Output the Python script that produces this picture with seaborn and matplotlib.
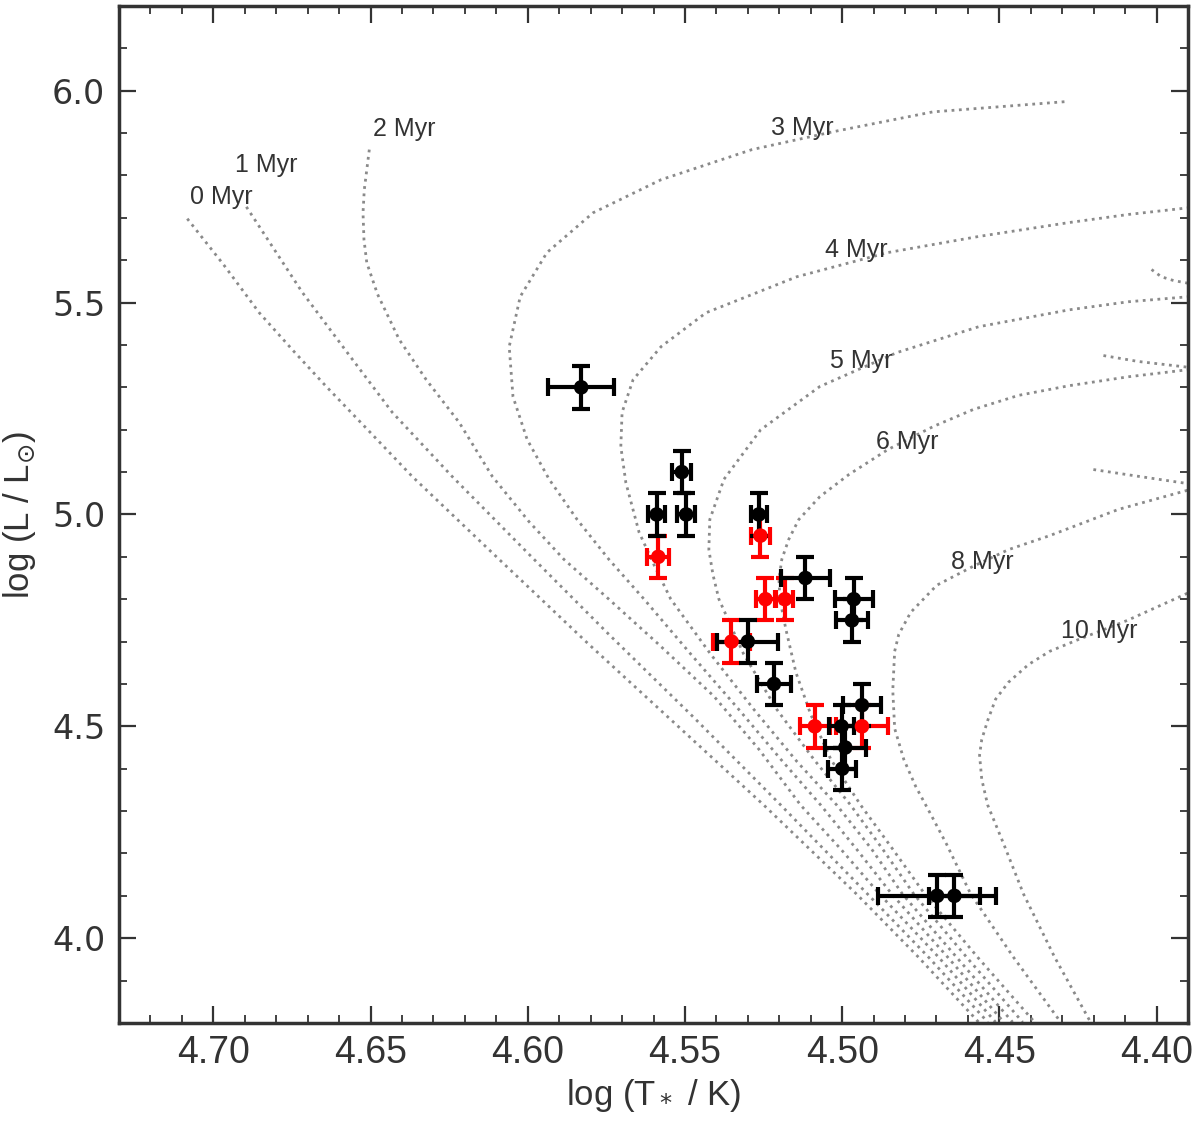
import matplotlib
matplotlib.use("Agg")
import matplotlib.pyplot as plt
from matplotlib.ticker import MultipleLocator, FormatStrFormatter
import numpy as np
import pandas as pd
import seaborn as sns

# --- isochrones (log T, log L) ---
iso0_T = [4.7083, 4.6968, 4.6854, 4.6743, 4.6641, 4.6504, 4.6368, 4.6091, 4.5805, 4.5519, 4.5249, 4.4954, 4.4757, 4.4566]
iso0_L = [5.698, 5.590, 5.476, 5.384, 5.302, 5.196, 5.090, 4.894, 4.693, 4.498, 4.314, 4.104, 3.955, 3.802]

iso1_T = [4.6895, 4.6806, 4.6717, 4.6574, 4.6431, 4.6241, 4.5996, 4.5742, 4.5472, 4.5195, 4.4919, 4.4725, 4.4537]
iso1_L = [5.726, 5.625, 5.524, 5.382, 5.241, 5.090, 4.906, 4.717, 4.521, 4.314, 4.104, 3.955, 3.802]

iso2_T = [4.6504, 4.6520, 4.6524, 4.6521, 4.6512, 4.6478, 4.6409, 4.6323, 4.6218, 4.6113, 4.5996,
          4.5885, 4.5742, 4.5583, 4.5408, 4.5265, 4.5132, 4.5004, 4.4881, 4.4693, 4.4512]
iso2_L = [5.861, 5.766, 5.712, 5.649, 5.594, 5.520, 5.413, 5.318, 5.217, 5.090, 4.983,
          4.894, 4.800, 4.693, 4.571, 4.446, 4.314, 4.210, 4.104, 3.955, 3.802]

iso3_T = [4.4293, 4.4502, 4.4712, 4.5030, 4.5287, 4.5576, 4.5792, 4.5939, 4.6024, 4.6059, 4.6047, 4.6002,
          4.5932, 4.5843, 4.5742, 4.5630, 4.5481, 4.5329, 4.5195, 4.5068, 4.4954, 4.4842, 4.4664, 4.4486]
iso3_L = [5.974, 5.962, 5.950, 5.903, 5.861, 5.790, 5.712, 5.618, 5.514, 5.396, 5.278, 5.177,
          5.083, 4.988, 4.894, 4.800, 4.670, 4.540, 4.422, 4.314, 4.210, 4.104, 3.955, 3.802]

iso4_T = [4.3895, 4.4089, 4.4277, 4.4566, 4.4855, 4.5144, 4.5433, 4.5576, 4.5665, 4.5700, 4.5704, 4.5688,
          4.5646, 4.5599, 4.5545, 4.5418, 4.5281, 4.5144, 4.5017, 4.4906, 4.4808, 4.4636, 4.4458]
iso4_L = [5.724, 5.708, 5.689, 5.656, 5.618, 5.561, 5.476, 5.396, 5.318, 5.241, 5.160, 5.075,
          4.958, 4.882, 4.800, 4.670, 4.540, 4.417, 4.314, 4.210, 4.104, 3.955, 3.802]

iso5_T = [4.3895, 4.4089, 4.4277, 4.4566, 4.4826, 4.5071, 4.5259, 4.5376, 4.5421, 4.5424, 4.5411, 4.5392,
          4.5313, 4.5208, 4.5090, 4.4973, 4.4871, 4.4772, 4.4604, 4.4426]
iso5_L = [5.514, 5.502, 5.483, 5.443, 5.382, 5.302, 5.200, 5.083, 4.988, 4.917, 4.858, 4.800,
          4.670, 4.540, 4.422, 4.314, 4.210, 4.104, 3.955, 3.802]

iso6_T = [4.3895, 4.4089, 4.4277, 4.4439, 4.4582, 4.4709, 4.4855, 4.4979, 4.5071, 4.5138, 4.5170, 4.5192,
          4.5201, 4.5198, 4.5179, 4.5147, 4.5100, 4.5036, 4.4941, 4.4839, 4.4737, 4.4569, 4.4388]
iso6_L = [5.342, 5.325, 5.304, 5.281, 5.248, 5.208, 5.153, 5.094, 5.042, 4.988, 4.941, 4.894,
          4.847, 4.800, 4.729, 4.627, 4.528, 4.422, 4.314, 4.210, 4.104, 3.955, 3.802]

iso8_T = [4.3902, 4.4121, 4.4340, 4.4471, 4.4585, 4.4699, 4.4782, 4.4820, 4.4833, 4.4839, 4.4833, 4.4804,
          4.4766, 4.4718, 4.4668, 4.4591, 4.4455, 4.4305]
iso8_L = [5.057, 5.012, 4.950, 4.917, 4.877, 4.833, 4.769, 4.717, 4.677, 4.585, 4.495, 4.422,
          4.358, 4.292, 4.222, 4.104, 3.955, 3.802]

iso10_T = [4.3902, 4.4093, 4.4248, 4.4340, 4.4407, 4.4471, 4.4512, 4.4537, 4.4556, 4.4563, 4.4556, 4.4537,
           4.4486, 4.4423, 4.4324, 4.4210]
iso10_L = [4.814, 4.750, 4.705, 4.677, 4.646, 4.604, 4.564, 4.514, 4.469, 4.432, 4.375, 4.314,
           4.222, 4.104, 3.955, 3.802]

# short pieces at the right edge
frag1_T = [4.4016, 4.3985, 4.3946, 4.3895]
frag1_L = [5.578, 5.561, 5.552, 5.545]
frag2_T = [4.4169, 4.4058, 4.3895]
frag2_L = [5.375, 5.361, 5.347]
frag3_T = [4.4201, 4.4058, 4.3902]
frag3_L = [5.106, 5.090, 5.073]

iso_labels = ["0 Myr", "1 Myr", "2 Myr", "3 Myr", "4 Myr", "5 Myr", "6 Myr", "8 Myr", "10 Myr"]
label_T = [4.6975, 4.6832, 4.6393, 4.5128, 4.4954, 4.4938, 4.4792, 4.4553, 4.4181]
label_L = [5.748, 5.825, 5.910, 5.913, 5.625, 5.361, 5.172, 4.887, 4.724]

# --- stars ---
black_T = [4.583, 4.551, 4.559, 4.5496, 4.5265, 4.5117, 4.4963, 4.4969, 4.530, 4.5217,
           4.4937, 4.5002, 4.499, 4.500, 4.4698, 4.4643]
black_L = [5.30, 5.10, 5.00, 5.00, 5.00, 4.85, 4.80, 4.75, 4.70, 4.60,
           4.55, 4.50, 4.45, 4.40, 4.10, 4.10]
black_Terr = [0.0105, 0.003, 0.0028, 0.0029, 0.0026, 0.0077, 0.006, 0.005, 0.0097, 0.0055,
              0.006, 0.004, 0.0065, 0.0045, 0.0187, 0.008]
black_Lerr = [0.05] * 16

red_T = [4.5585, 4.526, 4.5244, 4.5182, 4.5352, 4.5087, 4.4937]
red_L = [4.90, 4.95, 4.80, 4.80, 4.70, 4.50, 4.50]
red_Terr = [0.0035, 0.003, 0.003, 0.0027, 0.006, 0.0048, 0.0083]
red_Lerr = [0.05] * 7

# long-format table for seaborn
curves = {
    "0": (iso0_T, iso0_L), "1": (iso1_T, iso1_L), "2": (iso2_T, iso2_L),
    "3": (iso3_T, iso3_L), "4": (iso4_T, iso4_L), "5": (iso5_T, iso5_L),
    "6": (iso6_T, iso6_L), "8": (iso8_T, iso8_L), "10": (iso10_T, iso10_L),
    "f1": (frag1_T, frag1_L), "f2": (frag2_T, frag2_L), "f3": (frag3_T, frag3_L),
}
df_iso = pd.concat([pd.DataFrame({"curve": k, "logT": t, "logL": l})
                    for k, (t, l) in curves.items()], ignore_index=True)

df_stars = pd.concat([
    pd.DataFrame({"logT": black_T, "logL": black_L, "group": "black"}),
    pd.DataFrame({"logT": red_T, "logL": red_L, "group": "red"}),
], ignore_index=True)

sns.set_style("ticks")
plt.rcParams["font.family"] = ["Liberation Sans", "DejaVu Sans"]

fig = plt.figure(figsize=(12, 11.24), dpi=100)
ax = fig.add_axes([0.0992, 0.0899, 0.8908, 0.9048])

sns.lineplot(data=df_iso, x="logT", y="logL", units="curve", estimator=None, sort=False,
             color="#8a8a8a", linestyle=":", linewidth=2.0, ax=ax, zorder=1)

for lab, t, l in zip(iso_labels, label_T, label_L):
    ax.text(t, l, lab, ha="center", va="center", fontsize=18, color="#333333", zorder=2)

ax.errorbar(red_T, red_L, xerr=red_Terr, yerr=red_Lerr, fmt="none", ecolor="red",
            elinewidth=3.0, capsize=6.5, capthick=3.0, zorder=3)
ax.errorbar(black_T, black_L, xerr=black_Terr, yerr=black_Lerr, fmt="none", ecolor="black",
            elinewidth=3.0, capsize=6.5, capthick=3.0, zorder=4)
sns.scatterplot(data=df_stars, x="logT", y="logL", hue="group",
                palette={"black": "black", "red": "red"}, s=110, edgecolor="none",
                legend=False, ax=ax, zorder=5)

ax.set_xlim(4.73, 4.39)
ax.set_ylim(3.8, 6.2)
ax.xaxis.set_major_locator(MultipleLocator(0.05))
ax.xaxis.set_minor_locator(MultipleLocator(0.01))
ax.yaxis.set_major_locator(MultipleLocator(0.5))
ax.yaxis.set_minor_locator(MultipleLocator(0.1))
ax.xaxis.set_major_formatter(FormatStrFormatter("%.2f"))
ax.yaxis.set_major_formatter(FormatStrFormatter("%.1f"))

ax.tick_params(which="both", direction="in", top=True, right=True, colors="#333333")
ax.tick_params(which="major", length=12, width=1.6)
ax.tick_params(which="minor", length=6, width=1.3)
ax.tick_params(axis="x", labelsize=27, pad=9)
ax.tick_params(axis="y", labelsize=24, pad=10)
for lbl in ax.get_yticklabels():
    lbl.set_family("DejaVu Sans")
for sp in ax.spines.values():
    sp.set_linewidth(2.5)
    sp.set_color("#333333")

ax.set_xlabel(r"log (T$_*$ / K)", fontsize=25, color="#333333", labelpad=4)
ax.set_ylabel(r"log (L / L$_{\odot}$)", fontsize=25, color="#333333", labelpad=10)

fig.savefig("out.png", dpi=100)
